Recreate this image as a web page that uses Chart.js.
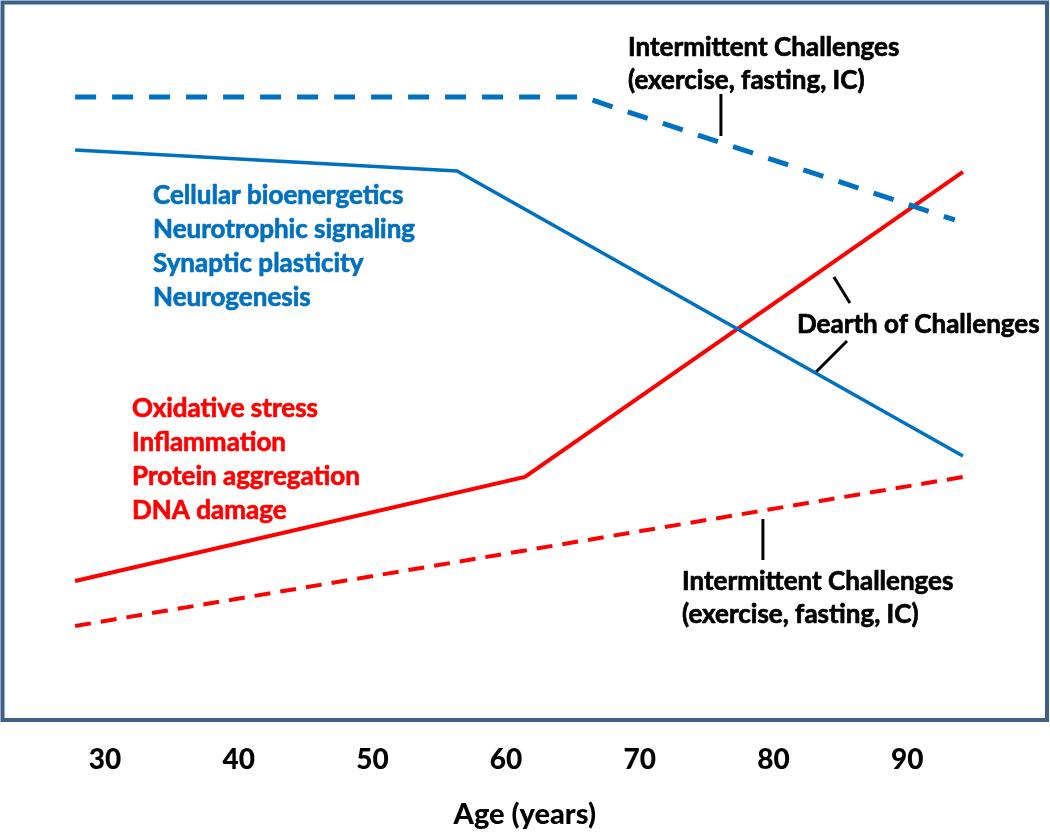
<!DOCTYPE html>
<html>
<head>
<meta charset="utf-8">
<script src="https://cdn.jsdelivr.net/npm/chart.js@4"></script>
<style>
  html, body { margin: 0; padding: 0; background: #fff; }
  #wrap { width: 1050px; height: 832px; }
</style>
</head>
<body>
<div id="wrap"><canvas id="chart"></canvas></div>
<script>
// x = age in years, y = relative level (0-100, no axis shown)
const xTicks = [30, 40, 50, 60, 70, 80, 90]

const blueDashedX = [27.76, 65.75, 93.57]
const blueDashedY = [86.83, 86.83, 69.69]

const blueSolidX = [27.76, 56.33, 94.17]
const blueSolidY = [79.44, 76.52, 36.79]

const redSolidX = [27.76, 61.41, 94.17]
const redSolidY = [19.37, 33.87, 76.38]

const redDashedX = [27.76, 94.17]
const redDashedY = [13.10, 33.87]

// short black pointer lines
const pointers = [
  { x: [76.07, 76.07], y: [87.25, 81.39] },
  { x: [84.52, 85.72], y: [61.74, 58.12] },
  { x: [85.50, 83.18], y: [52.82, 48.50] },
  { x: [79.21, 79.21], y: [28.01, 22.30] }
]

const blueLabels = ['Cellular bioenergetics', 'Neurotrophic signaling', 'Synaptic plasticity', 'Neurogenesis']
const redLabels = ['Oxidative stress', 'Inflammation', 'Protein aggregation', 'DNA damage']
const icLabels = ['Intermittent Challenges', '(exercise, fasting, IC)']
const dearthLabel = ['Dearth of Challenges']

const BLUE = '#0070C0'
const RED = '#FF0000'
const FONT = 'Lato, "Open Sans", sans-serif'

function pts(xs, ys) {
  return xs.map((x, i) => ({ x: x, y: ys[i] }))
}

// text blocks: anchor (age, level of first baseline), line step in level units
const textBlocks = [
  { lines: blueLabels, x: 33.59, y: 71.92, step: 4.75, color: BLUE },
  { lines: redLabels, x: 32.02, y: 42.23, step: 4.75, color: RED },
  { lines: icLabels, x: 69.12, y: 92.54, step: 4.6, color: '#000' },
  { lines: dearthLabel, x: 81.76, y: 53.94, step: 0, color: '#000' },
  { lines: icLabels, x: 73.16, y: 18.12, step: 4.6, color: '#000' }
]

const annotate = {
  id: 'annotate',
  afterDraw(chart) {
    const ctx = chart.ctx
    const xs = chart.scales.x, ys = chart.scales.y
    const a = chart.chartArea
    ctx.save()
    // frame
    ctx.strokeStyle = '#3D5F8C'
    ctx.lineWidth = 4
    ctx.strokeRect(a.left, a.top, a.right - a.left, a.bottom - a.top)
    // labels (thin stroke to get closer to the heavier original type)
    ctx.font = 'bold 26px ' + FONT
    ctx.textAlign = 'left'
    ctx.textBaseline = 'alphabetic'
    ctx.lineWidth = 0.7
    ctx.lineJoin = 'round'
    textBlocks.forEach(b => {
      ctx.fillStyle = b.color
      ctx.strokeStyle = b.color
      b.lines.forEach((t, i) => {
        const px = xs.getPixelForValue(b.x)
        const py = ys.getPixelForValue(b.y - i * b.step)
        ctx.fillText(t, px, py)
        ctx.strokeText(t, px, py)
      })
    })
    ctx.restore()
  }
}

const datasets = [
  { data: pts(blueDashedX, blueDashedY), borderColor: BLUE, borderWidth: 5, borderDash: [21, 16] },
  { data: pts(blueSolidX, blueSolidY), borderColor: BLUE, borderWidth: 3.5 },
  { data: pts(redSolidX, redSolidY), borderColor: RED, borderWidth: 4 },
  { data: pts(redDashedX, redDashedY), borderColor: RED, borderWidth: 4, borderDash: [16, 10] }
]
pointers.forEach(p => {
  datasets.push({ data: pts(p.x, p.y), borderColor: '#000', borderWidth: 3 })
})

new Chart(document.getElementById('chart'), {
  type: 'line',
  data: { datasets: datasets },
  options: {
    responsive: true,
    maintainAspectRatio: false,
    animation: false,
    layout: { padding: { left: 2.5, right: 3, top: 2.5, bottom: 0 } },
    elements: {
      point: { radius: 0 },
      line: { tension: 0, fill: false, borderCapStyle: 'butt' }
    },
    plugins: {
      legend: { display: false },
      tooltip: { enabled: false }
    },
    scales: {
      x: {
        type: 'linear',
        min: 22.33,
        max: 100.46,
        afterBuildTicks: axis => { axis.ticks = xTicks.map(v => ({ value: v })) },
        afterFit: axis => { axis.height = 112 },
        grid: { display: false, drawTicks: false },
        border: { display: false },
        ticks: {
          padding: 23,
          color: '#000',
          font: { family: FONT, size: 28, weight: 900 }
        },
        title: {
          display: true,
          text: 'Age (years)',
          color: '#000',
          padding: { top: 0, bottom: 0 },
          font: { family: FONT, size: 29, weight: 900 }
        }
      },
      y: {
        display: false,
        min: 0,
        max: 100
      }
    }
  },
  plugins: [annotate]
})
</script>
</body>
</html>
